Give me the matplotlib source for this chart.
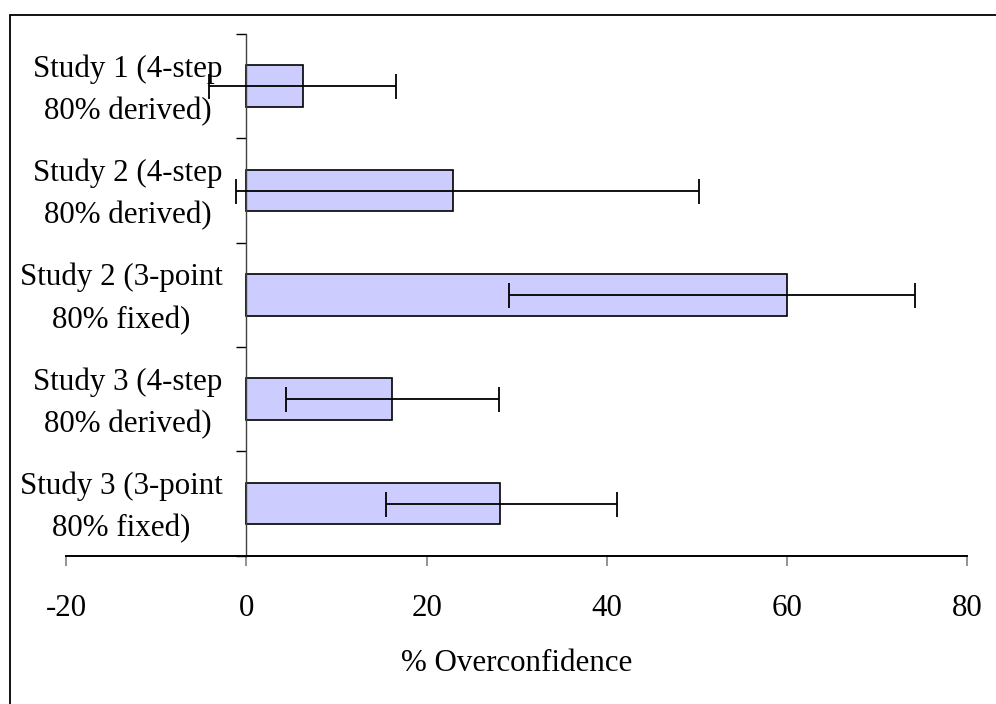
import matplotlib.pyplot as plt
from matplotlib.patches import Rectangle

plt.rcParams['font.family'] = ['Liberation Serif', 'DejaVu Serif']

labels = ['Study 1 (4-step\n80% derived)',
          'Study 2 (4-step\n80% derived)',
          'Study 2 (3-point\n80% fixed)',
          'Study 3 (4-step\n80% derived)',
          'Study 3 (3-point\n80% fixed)']
values = [6.3, 22.9, 60.0, 16.2, 28.2]
err_low = [-4.2, -1.2, 29.1, 4.4, 15.5]      # lower end of the error bar
err_high = [16.6, 50.2, 74.2, 28.05, 41.15]  # upper end of the error bar

fig = plt.figure(figsize=(9.96, 7.04), dpi=100)
ax = fig.add_axes([0.0666, 0.2107, 0.9043, 0.741])

pos = list(range(len(labels)))
xerr = [[v - lo for v, lo in zip(values, err_low)],
        [hi - v for v, hi in zip(values, err_high)]]

ax.barh(pos, values, height=0.4, color='#CCCCFF', edgecolor='black', linewidth=1.2, zorder=2)
ax.errorbar(values, pos, xerr=xerr, fmt='none', ecolor='black', elinewidth=1.3,
            capsize=9, capthick=1.3, zorder=3)

ax.set_ylim(4.5, -0.5)
ax.set_xlim(-20, 80)
ax.set_xticks([-20, 0, 20, 40, 60, 80])
ax.set_xticklabels(['-20', '0', '20', '40', '60', '80'])

# label ticks sit a little above the bar centres, like the original
ax.set_yticks([p - 0.06 for p in pos])
ax.set_yticklabels(labels)
ax.set_yticks([-0.5, 0.5, 1.5, 2.5, 3.5, 4.5], minor=True)
ax.tick_params(axis='y', which='major', length=0, pad=17, labelsize=22.3)
ax.tick_params(axis='y', which='minor', length=7.5, width=1, color='black', direction='out')
ax.tick_params(axis='x', which='major', length=7.5, width=1.2, color='#808080',
               direction='out', pad=20, labelsize=22.3)

ax.spines['top'].set_visible(False)
ax.spines['right'].set_visible(False)
ax.spines['left'].set_position(('data', 0))
ax.spines['left'].set_color('#404040')
ax.spines['left'].set_linewidth(1)
ax.spines['bottom'].set_linewidth(1.4)

ax.set_xlabel('% Overconfidence', fontsize=22.3, labelpad=19)

# outer frame (cut off at right and bottom in the original)
fig.patches.append(Rectangle((10 / 996, -0.1), 1.2, 1 - 15 / 704 + 0.1, transform=fig.transFigure,
                             fill=False, edgecolor='black', linewidth=1.3))

fig.canvas.draw()
for t in ax.get_yticklabels():
    t.set_multialignment('center')
    t.set_linespacing(1.6)

fig.savefig('out.png', dpi=100)
